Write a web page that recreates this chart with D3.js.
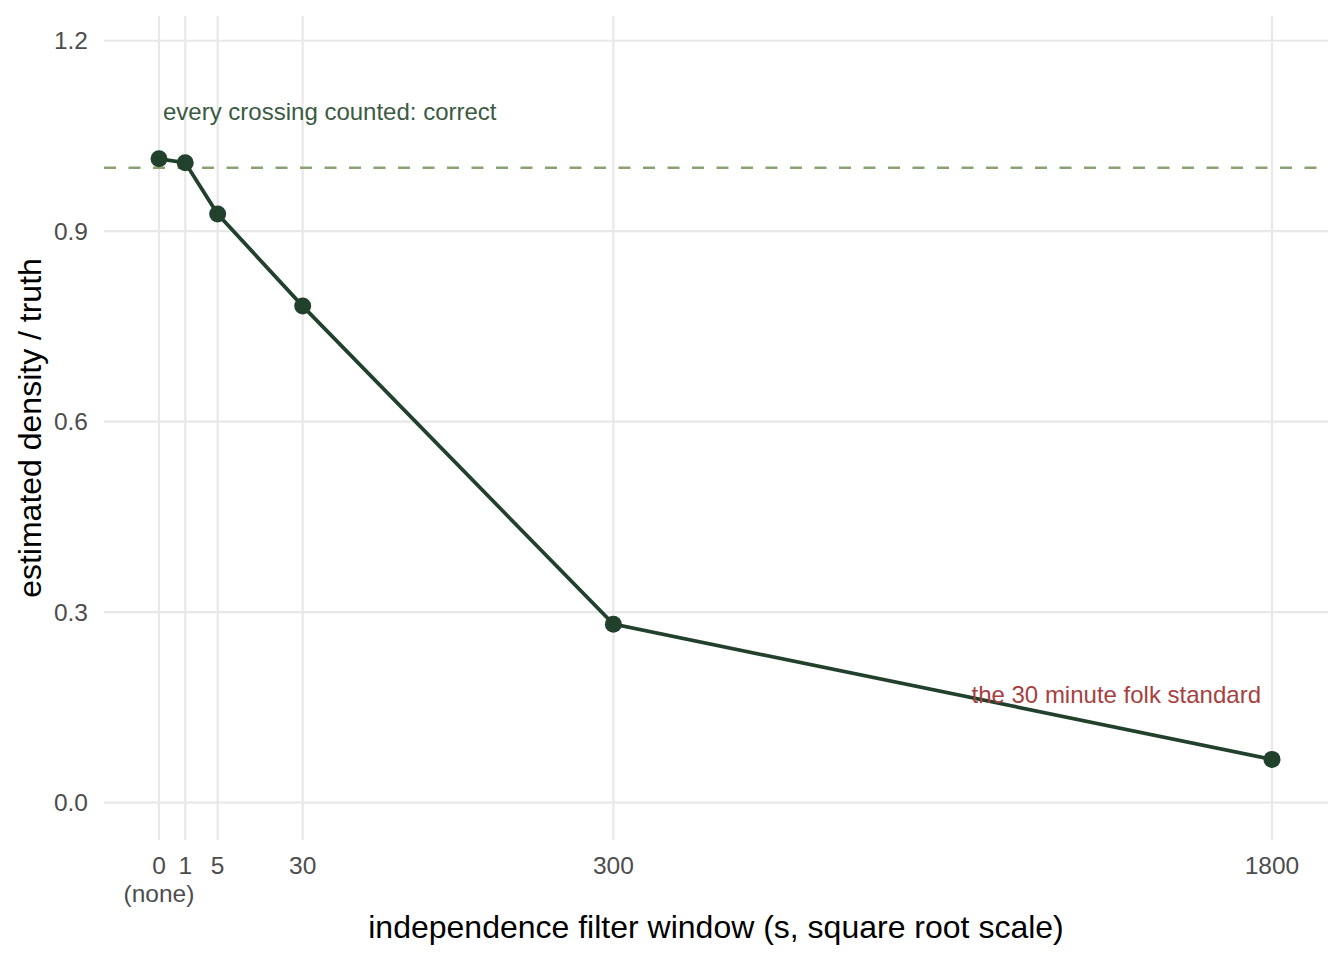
<!DOCTYPE html>
<html>
<head>
<meta charset="utf-8">
<script src="https://cdn.jsdelivr.net/npm/d3@7"></script>
<style>
  body { margin: 0; background: #fff; }
  svg { font-family: "Liberation Sans", Arial, sans-serif; }
</style>
</head>
<body>
<svg width="1344" height="960"></svg>
<script>
const windows = [0, 1, 5, 30, 300, 1800];
const ratio = [1.014, 1.008, 0.927, 0.782, 0.281, 0.068];
const xTickLabels = ["0\n(none)", "1", "5", "30", "300", "1800"];
const yTicks = [0, 0.3, 0.6, 0.9, 1.2];

const svg = d3.select("svg");
const panelLeft = 104, panelRight = 1328, panelTop = 16, panelBottom = 840;

// sqrt x scale, y with ggplot-style padding
const x = d3.scaleSqrt().domain([0, 1800]).range([159, 1272]);
const y = d3.scaleLinear().domain([-0.059, 1.239]).range([panelBottom, panelTop]);

const grid = svg.append("g");
grid.selectAll(".hg").data(yTicks).join("line")
    .attr("x1", panelLeft).attr("x2", panelRight)
    .attr("y1", d => y(d)).attr("y2", d => y(d))
    .attr("stroke", "#e8e8e8").attr("stroke-width", 2.2);
grid.selectAll(".vg").data(windows).join("line")
    .attr("x1", d => x(d)).attr("x2", d => x(d))
    .attr("y1", panelTop).attr("y2", panelBottom)
    .attr("stroke", "#e8e8e8").attr("stroke-width", 2.2);

// reference line at 1
svg.append("line")
    .attr("x1", panelLeft).attr("x2", panelRight)
    .attr("y1", y(1)).attr("y2", y(1))
    .attr("stroke", "#8aa274").attr("stroke-width", 2.4)
    .attr("stroke-dasharray", "12,12.5");

const pts = windows.map((w, i) => ({ w, v: ratio[i] }));

svg.append("path")
    .datum(pts)
    .attr("fill", "none")
    .attr("stroke", "#21412d")
    .attr("stroke-width", 3.7)
    .attr("d", d3.line().x(d => x(d.w)).y(d => y(d.v)));

svg.selectAll(".pt").data(pts).join("circle")
    .attr("cx", d => x(d.w)).attr("cy", d => y(d.v))
    .attr("r", 8.5).attr("fill", "#21412d");

// annotations
svg.append("text")
    .attr("x", x(0) + 4).attr("y", 120)
    .attr("fill", "#3b5a42").style("font-size", "24px")
    .text("every crossing counted: correct");
svg.append("text")
    .attr("x", x(1800) - 11).attr("y", 703)
    .attr("text-anchor", "end")
    .attr("fill", "#a8403f").style("font-size", "24px")
    .text("the 30 minute folk standard");

// y tick labels
svg.selectAll(".yl").data(yTicks).join("text")
    .attr("x", 88).attr("y", d => y(d))
    .attr("dy", "0.35em")
    .attr("text-anchor", "end")
    .attr("fill", "#4d4d4d").style("font-size", "24.5px")
    .text(d => d.toFixed(1));

// x tick labels
const xl = svg.selectAll(".xl").data(windows).join("text")
    .attr("x", d => x(d)).attr("y", 874)
    .attr("text-anchor", "middle")
    .attr("fill", "#4d4d4d").style("font-size", "24.5px");
xl.each(function (d, i) {
    const lines = xTickLabels[i].split("\n");
    d3.select(this).selectAll("tspan").data(lines).join("tspan")
        .attr("x", x(d)).attr("dy", (l, j) => j === 0 ? 0 : 28)
        .text(l => l);
});

// axis titles
svg.append("text")
    .attr("x", (panelLeft + panelRight) / 2).attr("y", 938)
    .attr("text-anchor", "middle")
    .attr("fill", "#000").style("font-size", "32px")
    .text("independence filter window (s, square root scale)");
svg.append("text")
    .attr("transform", `translate(41,${(panelTop + panelBottom) / 2}) rotate(-90)`)
    .attr("text-anchor", "middle")
    .attr("fill", "#000").style("font-size", "32px")
    .text("estimated density / truth");
</script>
</body>
</html>
